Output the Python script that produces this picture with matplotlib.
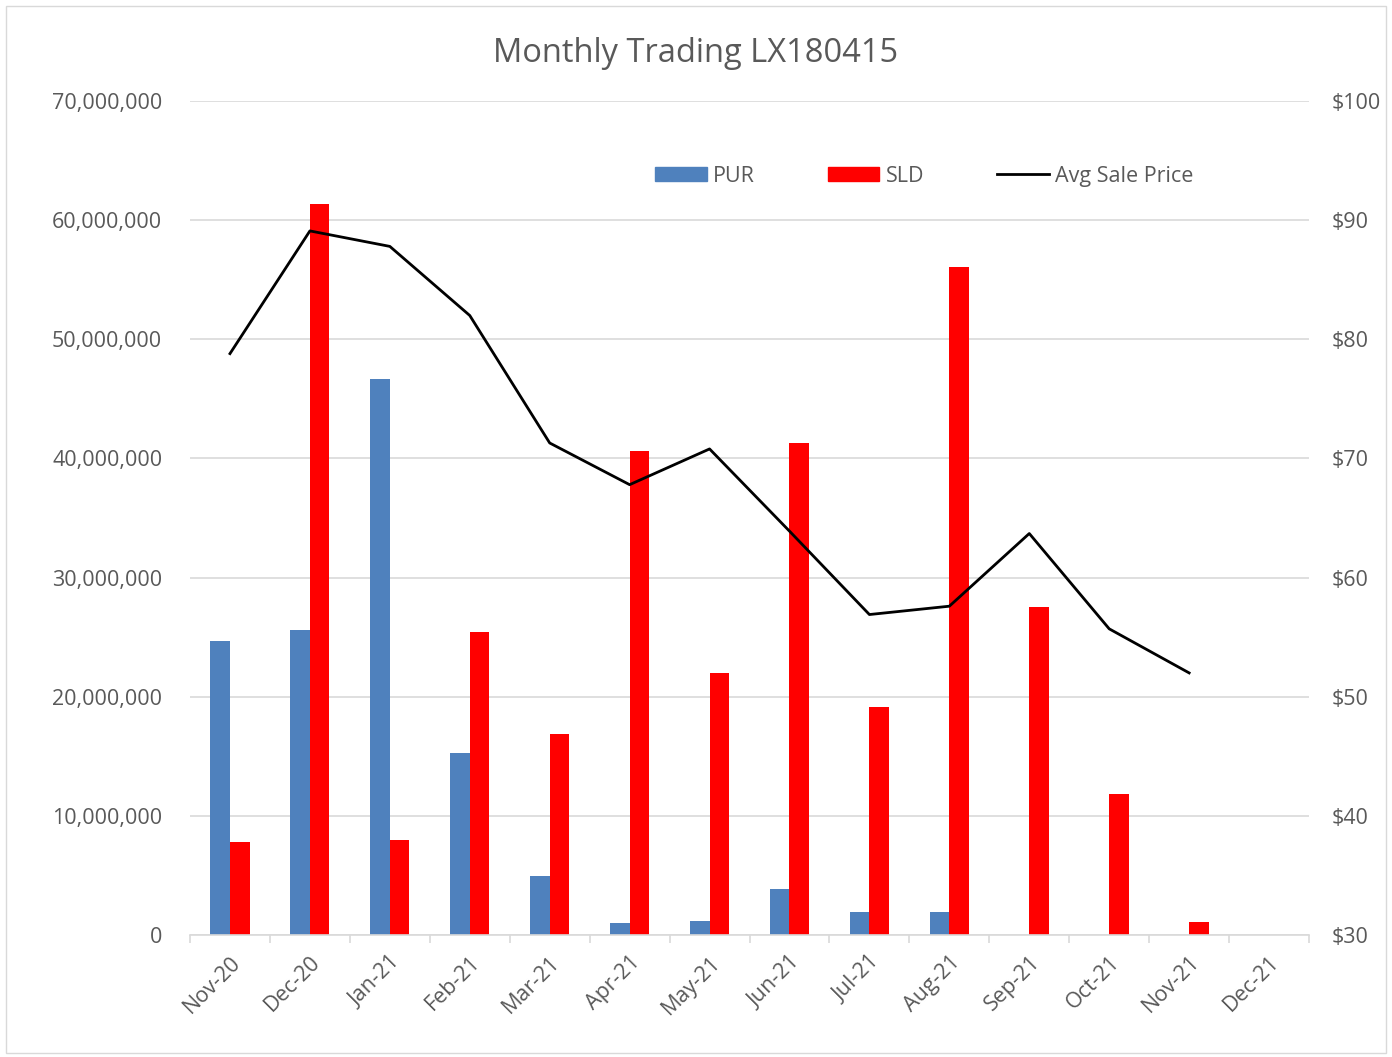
import matplotlib
matplotlib.use("Agg")
import matplotlib.pyplot as plt
import numpy as np
from matplotlib.patches import Rectangle
from matplotlib.lines import Line2D
from matplotlib.ticker import FuncFormatter

months = ["Nov-20", "Dec-20", "Jan-21", "Feb-21", "Mar-21", "Apr-21", "May-21",
          "Jun-21", "Jul-21", "Aug-21", "Sep-21", "Oct-21", "Nov-21", "Dec-21"]
pur = [24.7e6, 25.6e6, 46.7e6, 15.3e6, 4.95e6, 1.0e6, 1.2e6, 3.9e6, 1.9e6, 1.9e6, 0, 0, 0, 0]
sld = [7.8e6, 61.4e6, 8.0e6, 25.4e6, 16.9e6, 40.6e6, 22.0e6, 41.3e6, 19.1e6, 56.1e6, 27.5e6, 11.8e6, 1.1e6, 0]
avg_price = [78.8, 89.1, 87.8, 82.0, 71.3, 67.8, 70.8, 63.9, 56.9, 57.6, 63.7, 55.7, 52.0, None]

plt.rcParams['font.family'] = ['Open Sans', 'DejaVu Sans']
txt = '#595959'
grid_c = '#d9d9d9'

fig = plt.figure(figsize=(13.92, 10.57), dpi=100)
fig.patches.append(Rectangle((0.004, 0.004), 0.992, 0.99, transform=fig.transFigure,
                             fill=False, edgecolor='#d9d9d9', linewidth=1))
ax = fig.add_axes([0.1365, 0.1154, 0.8039, 0.789])
x = np.arange(len(months))
w = 0.245
ax.bar(x - w/2, pur, width=w, color='#4f81bd', zorder=2)
ax.bar(x + w/2, sld, width=w, color='#ff0000', zorder=2)
ax.set_xlim(-0.5, len(months) - 0.5)
ax.set_ylim(0, 70e6)
ax.set_yticks(np.arange(0, 70e6 + 1, 10e6))
ax.yaxis.set_major_formatter(FuncFormatter(lambda v, p: f"{int(v):,}"))
ax.grid(axis='y', color=grid_c, linewidth=1.2, zorder=0)
ax.set_axisbelow(True)
for s in ['top', 'right', 'left']:
    ax.spines[s].set_visible(False)
ax.spines['bottom'].set_color(grid_c)
ax.spines['bottom'].set_linewidth(1.2)
ax.tick_params(axis='y', length=0, labelsize=15.5, labelcolor=txt, pad=20)
ax.set_xticks(x)
ax.set_xticklabels(months, rotation=45, ha='right', rotation_mode='anchor', fontsize=15.5, color=txt)
ax.tick_params(axis='x', length=0, pad=12)
ax.set_xticks(np.arange(-0.5, len(months)), minor=True)
ax.tick_params(axis='x', which='minor', length=6, color=grid_c, width=1.2)

ax2 = ax.twinx()
px = [i for i, v in enumerate(avg_price) if v is not None]
py = [v for v in avg_price if v is not None]
ax2.plot(px, py, color='black', linewidth=2, zorder=3)
ax2.set_ylim(30, 100)
ax2.set_yticks(np.arange(30, 101, 10))
ax2.yaxis.set_major_formatter(FuncFormatter(lambda v, p: f"${int(v)}"))
ax2.tick_params(axis='y', length=0, labelsize=15.5, labelcolor=txt, pad=16)
for s in ['top', 'right', 'left', 'bottom']:
    ax2.spines[s].set_visible(False)

fig.text(0.5, 0.949, "Monthly Trading LX180415", ha='center', va='center', fontsize=23.5, color=txt)

handles = [Rectangle((0, 0), 1, 1, color='#4f81bd'),
           Rectangle((0, 0), 1, 1, color='#ff0000'),
           Line2D([0], [0], color='black', linewidth=2)]
leg = ax.legend(handles, ["PUR", "SLD", "Avg Sale Price"], ncol=3, frameon=False,
                loc='center', bbox_to_anchor=(0.656, 0.910), fontsize=15.5,
                handlelength=2.4, handleheight=0.6, handletextpad=0.28, columnspacing=3.4)
for t in leg.get_texts():
    t.set_color(txt)

fig.savefig("out.png", dpi=100)
